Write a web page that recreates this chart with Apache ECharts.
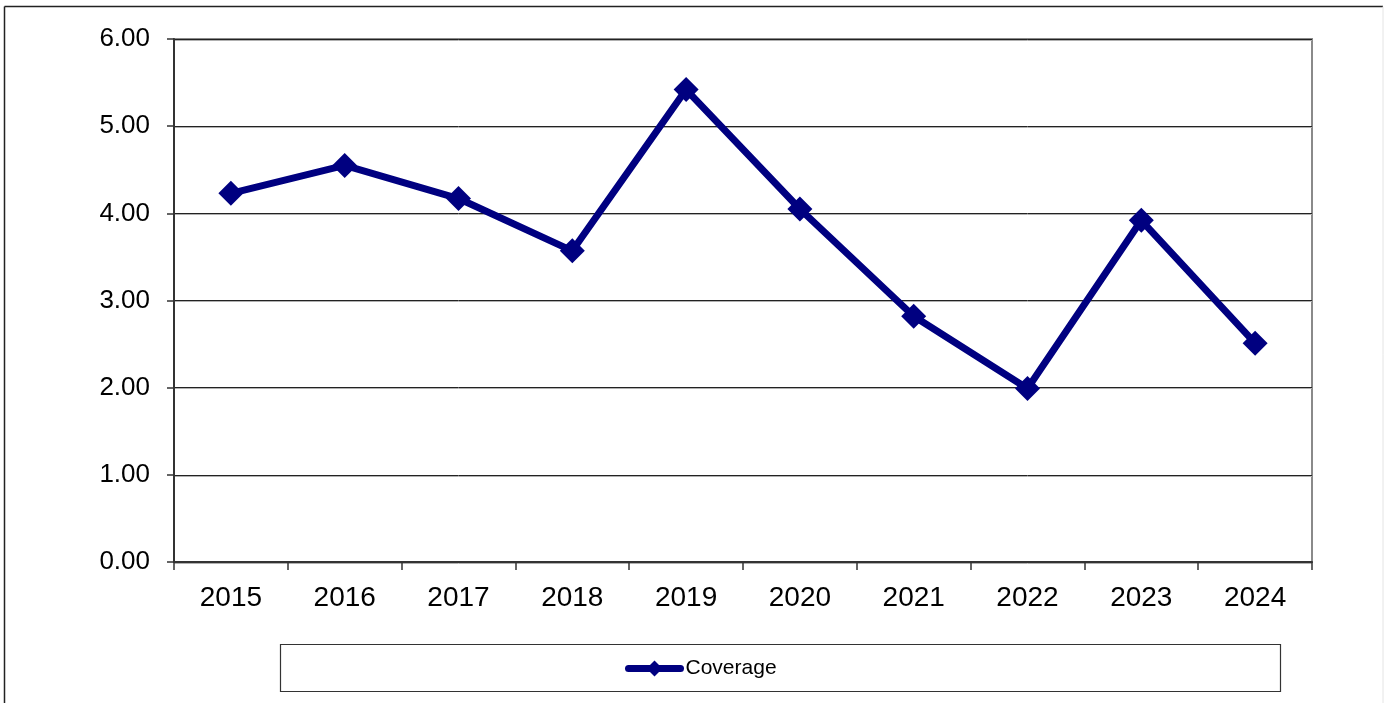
<!DOCTYPE html>
<html>
<head>
<meta charset="utf-8">
<script src="https://cdn.jsdelivr.net/npm/echarts@6/dist/echarts.min.js"></script>
<style>
  html, body { margin: 0; padding: 0; background: #fff; }
  #chart { width: 1384px; height: 703px; }
</style>
</head>
<body>
<div id="chart"></div>
<script>
// Years on the category axis
const years = ['2015', '2016', '2017', '2018', '2019', '2020', '2021', '2022', '2023', '2024'];
// Coverage ratio per year
const coverage = [4.23, 4.55, 4.17, 3.57, 5.42, 4.05, 2.82, 1.99, 3.92, 2.51];
// Value axis range
const yMin = 0;
const yMax = 6;
const yStep = 1;

const FONT = '"Liberation Sans", Arial, sans-serif';
const NAVY = '#000080';

const chart = echarts.init(document.getElementById('chart'), null, { renderer: 'canvas' });

chart.setOption({
  backgroundColor: '#ffffff',
  animation: false,
  textStyle: { fontFamily: FONT, color: '#000' },
  graphic: [
    // outer chart frame
    { type: 'line', shape: { x1: 4.5, y1: 6.5, x2: 1383, y2: 6.5 }, style: { stroke: '#222', lineWidth: 1.5 }, z: 0 },
    { type: 'line', shape: { x1: 4.5, y1: 6.5, x2: 4.5, y2: 703 }, style: { stroke: '#222', lineWidth: 1.5 }, z: 0 },
    { type: 'line', shape: { x1: 1383, y1: 6.5, x2: 1383, y2: 703 }, style: { stroke: '#e4e4e4', lineWidth: 1 }, z: 0 },
    // legend box
    { type: 'rect', shape: { x: 280.5, y: 644.5, width: 1000, height: 47 }, style: { fill: '#fff', stroke: '#333', lineWidth: 1.2 }, z: 0 }
  ],
  grid: {
    left: 174, right: 72, top: 39, bottom: 141,
    show: true,
    borderColor: '#8a8a8a',
    borderWidth: 2,
    backgroundColor: '#fff'
  },
  legend: {
    data: ['Coverage'],
    left: 620,
    top: 653,
    itemWidth: 52,
    itemHeight: 20,
    itemStyle: { color: NAVY },
    lineStyle: { color: NAVY, width: 7, cap: 'round' },
    textStyle: { fontFamily: FONT, fontSize: 21, color: '#000' }
  },
  xAxis: {
    type: 'category',
    data: years,
    boundaryGap: true,
    axisLine: { show: true, lineStyle: { color: '#333', width: 2 } },
    axisTick: { show: true, alignWithLabel: false, length: 8, lineStyle: { color: '#333', width: 1.5 } },
    axisLabel: { fontFamily: FONT, fontSize: 28, color: '#000', margin: 22 },
    splitLine: { show: false }
  },
  yAxis: {
    type: 'value',
    min: yMin,
    max: yMax,
    interval: yStep,
    axisLine: { show: true, lineStyle: { color: '#333', width: 2 } },
    axisTick: { show: true, length: 7, lineStyle: { color: '#333', width: 1.5 } },
    axisLabel: {
      fontFamily: FONT, fontSize: 26, color: '#000', margin: 24,
      formatter: v => v.toFixed(2)
    },
    splitLine: {
      show: true,
      lineStyle: { color: '#222', width: 1, shadowColor: '#b0b0b0', shadowOffsetY: 1, shadowBlur: 0 }
    }
  },
  series: [{
    name: 'Coverage',
    type: 'line',
    data: coverage,
    symbol: 'diamond',
    symbolSize: 25,
    lineStyle: { color: NAVY, width: 7 },
    itemStyle: { color: NAVY },
    z: 5
  }]
});
</script>
</body>
</html>
